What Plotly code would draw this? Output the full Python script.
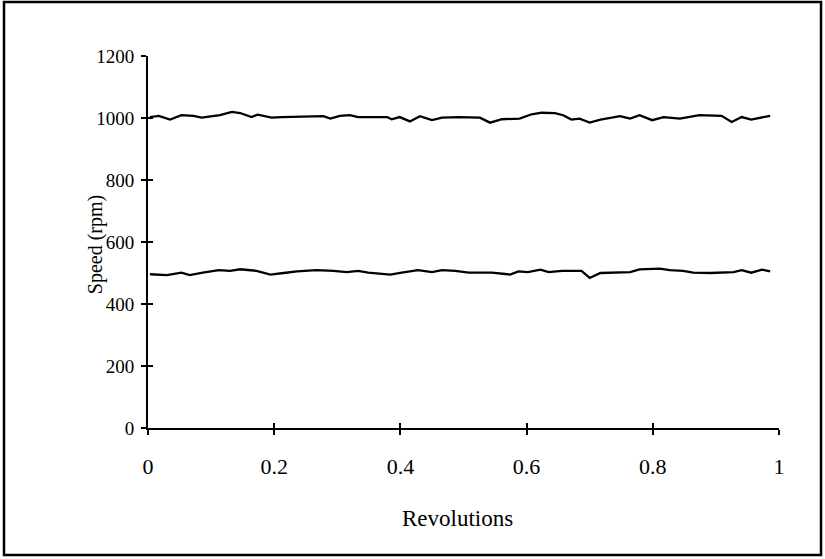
import plotly.graph_objects as go

# Upper series (~1000 rpm)
rev_high = [0.003, 0.017, 0.035, 0.053, 0.072, 0.085, 0.114, 0.133, 0.146, 0.164, 0.174,
            0.196, 0.212, 0.278, 0.289, 0.304, 0.320, 0.333, 0.379, 0.386, 0.399, 0.415,
            0.431, 0.450, 0.466, 0.492, 0.526, 0.542, 0.561, 0.589, 0.608, 0.624, 0.645,
            0.658, 0.671, 0.684, 0.700, 0.717, 0.735, 0.748, 0.764, 0.779, 0.799, 0.817,
            0.843, 0.874, 0.909, 0.925, 0.941, 0.956, 0.986]
speed_high = [1003, 1007, 995, 1009, 1007, 1001, 1009, 1020, 1016, 1003, 1011,
              1001, 1003, 1006, 998, 1007, 1009, 1003, 1003, 996, 1003, 989,
              1006, 993, 1001, 1003, 1001, 985, 996, 998, 1012, 1017, 1016,
              1009, 995, 998, 985, 995, 1001, 1006, 998, 1009, 993, 1003,
              998, 1009, 1007, 987, 1003, 995, 1007]

# Lower series (~500 rpm)
rev_low = [0.003, 0.030, 0.053, 0.066, 0.087, 0.112, 0.130, 0.146, 0.172, 0.194, 0.215,
           0.236, 0.267, 0.294, 0.315, 0.333, 0.349, 0.384, 0.402, 0.428, 0.450, 0.466,
           0.487, 0.508, 0.545, 0.561, 0.574, 0.587, 0.602, 0.622, 0.635, 0.656, 0.674,
           0.687, 0.700, 0.717, 0.764, 0.779, 0.811, 0.827, 0.848, 0.864, 0.891, 0.928,
           0.941, 0.956, 0.973, 0.986]
speed_low = [496, 493, 501, 493, 501, 509, 507, 512, 507, 495, 500,
             505, 509, 507, 503, 507, 501, 495, 501, 509, 503, 509,
             507, 501, 501, 498, 495, 505, 503, 511, 503, 507, 507,
             507, 484, 500, 503, 512, 514, 509, 507, 501, 500, 503,
             509, 501, 511, 505]

x_ticks = [0, 0.2, 0.4, 0.6, 0.8, 1]
x_tick_text = ["0", "0.2", "0.4", "0.6", "0.8", "1"]
y_ticks = [0, 200, 400, 600, 800, 1000, 1200]

FONT = "Liberation Serif"

fig = go.Figure()
fig.add_trace(go.Scatter(x=rev_high, y=speed_high, mode="lines",
                         line=dict(color="black", width=2.3), showlegend=False))
fig.add_trace(go.Scatter(x=rev_low, y=speed_low, mode="lines",
                         line=dict(color="black", width=2.3), showlegend=False))
# invisible trace to carry the inner-tick overlay axes
fig.add_trace(go.Scatter(x=[0.5], y=[600], xaxis="x2", yaxis="y2", mode="markers",
                         marker=dict(opacity=0), showlegend=False, hoverinfo="skip"))

fig.update_layout(
    width=825, height=559,
    paper_bgcolor="white", plot_bgcolor="white",
    margin=dict(l=148, r=46, t=56, b=131),
    font=dict(family=FONT, color="black", size=18),
    xaxis=dict(range=[0, 1], tickvals=x_ticks, ticktext=x_tick_text,
               showgrid=False, zeroline=False, showline=True, linecolor="black",
               linewidth=2, ticks="outside", ticklen=5, tickwidth=2, tickcolor="black",
               ticklabelstandoff=13, tickfont=dict(size=22, family=FONT)),
    yaxis=dict(range=[0, 1200], tickvals=y_ticks,
               showgrid=False, zeroline=False, showline=True, linecolor="black",
               linewidth=2, ticks="outside", ticklen=5, tickwidth=2, tickcolor="black",
               ticklabelstandoff=3, tickfont=dict(size=19, family=FONT)),
    xaxis2=dict(range=[0, 1], overlaying="x", tickvals=x_ticks, showticklabels=False,
                showgrid=False, zeroline=False, showline=False,
                ticks="inside", ticklen=5, tickwidth=2, tickcolor="black", side="bottom"),
    yaxis2=dict(range=[0, 1200], overlaying="y", tickvals=y_ticks, showticklabels=False,
                showgrid=False, zeroline=False, showline=False,
                ticks="inside", ticklen=5, tickwidth=2, tickcolor="black", side="left"),
    annotations=[
        dict(text="Revolutions", xref="paper", yref="paper", x=0.491, y=-0.2446,
             showarrow=False, xanchor="center", yanchor="middle",
             font=dict(size=23, family=FONT)),
        dict(text="Speed (rpm)", xref="paper", yref="paper", x=-0.082, y=0.492,
             showarrow=False, xanchor="center", yanchor="middle", textangle=-90,
             font=dict(size=20, family=FONT)),
    ],
    shapes=[
        dict(type="rect", xref="paper", yref="paper", x0=-0.2282, x1=1.0666,
             y0=-0.3414, y1=1.1452, line=dict(color="black", width=2.5)),
    ],
)

fig.write_html("out.html", config={"displayModeBar": False},
               post_script="document.body.style.margin='0';document.body.style.overflow='hidden';")
